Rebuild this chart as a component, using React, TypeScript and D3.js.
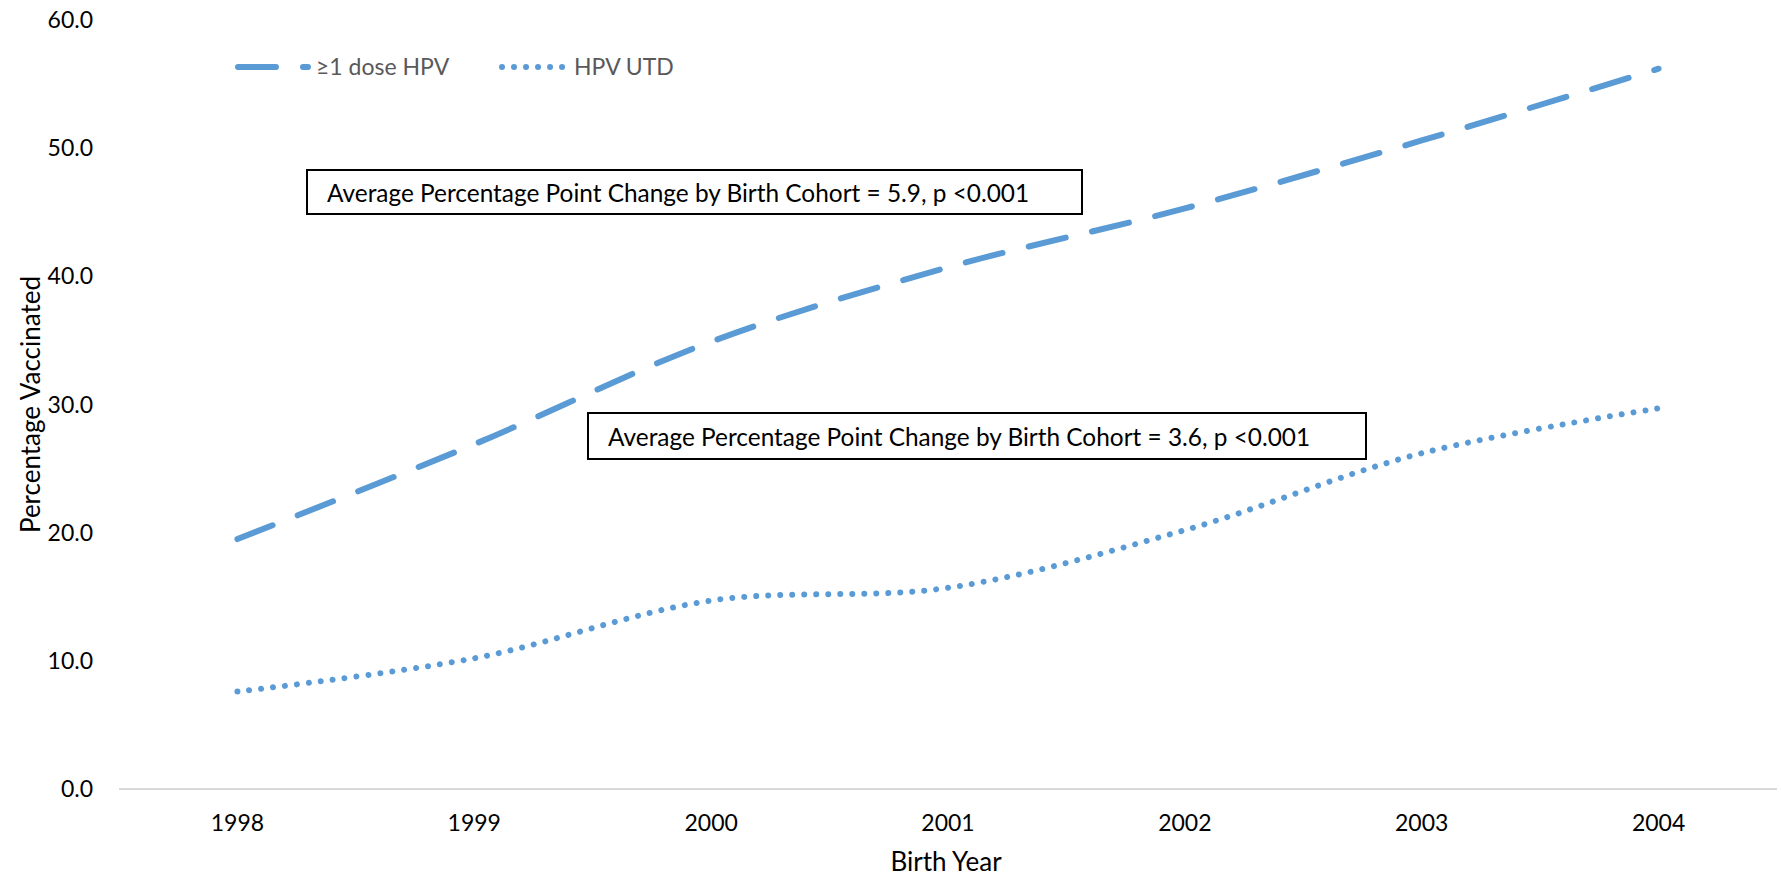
import * as d3 from "d3";
import { useEffect } from "react";

const years = ["1998", "1999", "2000", "2001", "2002", "2003", "2004"];
const oneDose = [19.5, 26.9, 34.9, 40.7, 45.3, 50.6, 56.2];
const utd = [7.6, 10.2, 14.7, 15.7, 20.2, 26.2, 29.7];
const yTicks = [0, 10, 20, 30, 40, 50, 60];

const annotations = [
  { text: "Average Percentage Point Change by Birth Cohort = 5.9, p <0.001", x: 307, y: 170, w: 775, h: 44 },
  { text: "Average Percentage Point Change by Birth Cohort = 3.6, p <0.001", x: 588, y: 413, w: 778, h: 46 },
];

const W = 1781;
const H = 877;
const BLUE = "#5b9bd5";
const FONT = "Lato, 'Open Sans', sans-serif";

export default function App() {
  useEffect(() => {
    document.body.style.margin = "0";
  }, []);

  const x = d3.scaleBand<string>().domain(years).range([119, 1777]);
  const y = d3.scaleLinear().domain([0, 60]).range([789, 20]);
  const cx = (yr: string) => (x(yr) ?? 0) + x.bandwidth() / 2;

  const line = d3
    .line<number>()
    .x((_, i) => cx(years[i]))
    .y((d) => y(d))
    .curve(d3.curveCatmullRom.alpha(0.5));

  return (
    <svg width={W} height={H} style={{ display: "block", background: "#fff" }} fontFamily={FONT}>
      {/* y ticks */}
      {yTicks.map((t) => (
        <text key={t} x={93} y={y(t)} dy="0.35em" textAnchor="end" fontSize={23} fill="#000">
          {t.toFixed(1)}
        </text>
      ))}
      {/* x axis */}
      <line x1={119} x2={1777} y1={y(0)} y2={y(0)} stroke="#d9d9d9" strokeWidth={2} />
      {years.map((yr) => (
        <text key={yr} x={cx(yr)} y={823} dy="0.35em" textAnchor="middle" fontSize={23} fill="#000">
          {yr}
        </text>
      ))}
      <text x={946} y={862} dy="0.35em" textAnchor="middle" fontSize={26} fill="#000">
        Birth Year
      </text>
      <text
        transform={`translate(31, ${y(30)}) rotate(-90)`}
        dy="0.35em"
        textAnchor="middle"
        fontSize={26}
        fill="#000"
      >
        Percentage Vaccinated
      </text>

      {/* series */}
      <path
        d={line(oneDose) ?? ""}
        fill="none"
        stroke={BLUE}
        strokeWidth={6}
        strokeLinecap="round"
        strokeDasharray="38 27"
      />
      <path
        d={line(utd) ?? ""}
        fill="none"
        stroke={BLUE}
        strokeWidth={6}
        strokeLinecap="round"
        strokeDasharray="0.01 12"
      />

      {/* legend */}
      <line x1={238} x2={308} y1={67} y2={67} stroke={BLUE} strokeWidth={6} strokeLinecap="round" strokeDasharray="38 27" />
      <text x={316} y={67} dy="0.35em" fontSize={23} fill="#595959">
        ≥1 dose HPV
      </text>
      <line x1={502} x2={564} y1={67} y2={67} stroke={BLUE} strokeWidth={6} strokeLinecap="round" strokeDasharray="0.01 12" />
      <text x={574} y={67} dy="0.35em" fontSize={23} fill="#595959">
        HPV UTD
      </text>

      {/* annotations */}
      {annotations.map((a, i) => (
        <g key={i}>
          <rect x={a.x} y={a.y} width={a.w} height={a.h} fill="#fff" stroke="#000" strokeWidth={2} />
          <text x={a.x + 20} y={a.y + a.h / 2 + 1} dy="0.35em" fontSize={24.4} fill="#000">
            {a.text}
          </text>
        </g>
      ))}
    </svg>
  );
}
